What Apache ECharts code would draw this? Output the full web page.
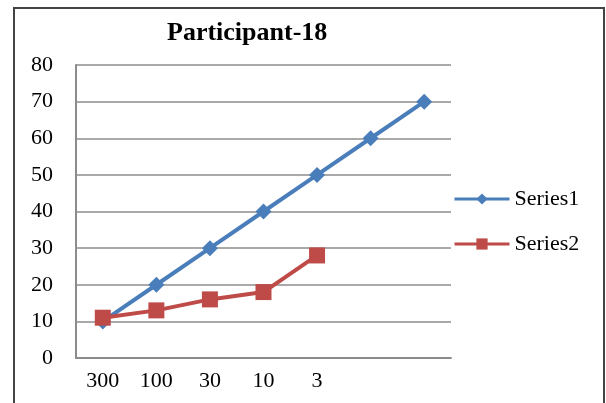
<!DOCTYPE html>
<html>
<head>
<meta charset="utf-8">
<script src="https://cdn.jsdelivr.net/npm/echarts@6/dist/echarts.min.js"></script>
<style>
  html, body { margin: 0; padding: 0; background: #fff; }
  #chart { width: 606px; height: 403px; }
</style>
</head>
<body>
<div id="chart"></div>
<script>
// Category labels along the x axis (last two positions carry no label)
const categories = ['300', '100', '30', '10', '3', '', ''];
// Series values
const series1 = [10, 20, 30, 40, 50, 60, 70];
const series2 = [11, 13, 16, 18, 28];
// Y axis range
const yMin = 0, yMax = 80, yStep = 10;

const serif = 'Liberation Serif, Times New Roman, serif';
const chart = echarts.init(document.getElementById('chart'));

chart.setOption({
  animation: false,
  title: {
    text: 'Participant-18',
    left: 167,
    top: 20,
    padding: 0,
    textStyle: { fontFamily: serif, fontWeight: 'bold', fontSize: 26, color: '#000' }
  },
  graphic: [{
    type: 'rect',
    shape: { x: 14, y: 8, width: 590, height: 400 },
    style: { fill: 'none', stroke: '#444', lineWidth: 2 },
    silent: true
  }],
  grid: { left: 76, right: 155, top: 65, bottom: 45 },
  legend: {
    orient: 'vertical',
    left: 453,
    top: 188,
    padding: 0,
    itemWidth: 55,
    itemHeight: 14,
    itemGap: 23,
    lineStyle: { width: 3 },
    textStyle: { fontFamily: serif, fontSize: 22, color: '#000' },
    data: ['Series1', 'Series2']
  },
  xAxis: {
    type: 'category',
    data: categories,
    boundaryGap: true,
    axisLine: { lineStyle: { color: '#8c8c8c', width: 2 } },
    axisTick: { show: false },
    axisLabel: { fontFamily: serif, fontSize: 22, color: '#000', margin: 12 },
    splitLine: { show: false }
  },
  yAxis: {
    type: 'value',
    min: yMin,
    max: yMax,
    interval: yStep,
    axisLine: { show: true, lineStyle: { color: '#8c8c8c', width: 2 } },
    axisTick: { show: false },
    axisLabel: { fontFamily: serif, fontSize: 22, color: '#000', margin: 23 },
    splitLine: { lineStyle: { color: '#8c8c8c', width: 1.5 } }
  },
  series: [
    {
      name: 'Series1',
      type: 'line',
      data: series1,
      symbol: 'diamond',
      symbolSize: 16,
      itemStyle: { color: '#4a7ebb' },
      lineStyle: { color: '#4a7ebb', width: 4 }
    },
    {
      name: 'Series2',
      type: 'line',
      data: series2,
      symbol: 'rect',
      symbolSize: 16,
      itemStyle: { color: '#be4b48' },
      lineStyle: { color: '#be4b48', width: 4 }
    }
  ]
});
</script>
</body>
</html>
